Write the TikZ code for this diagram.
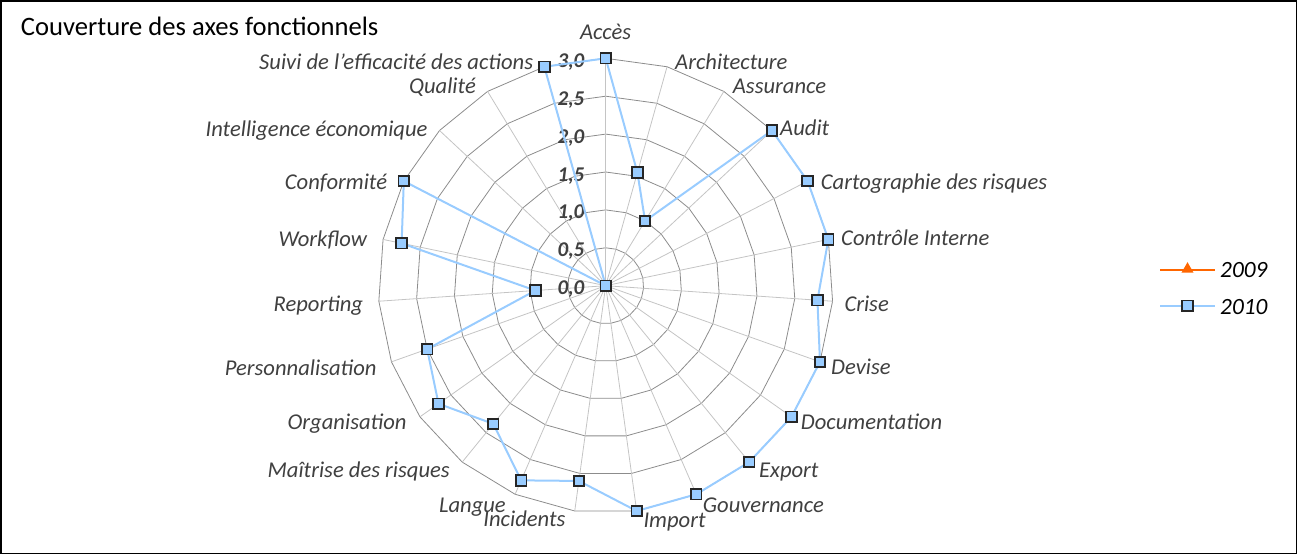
\documentclass[tikz,border=0pt]{standalone}
\usepackage{fontspec}
\setmainfont{Carlito}
\usetikzlibrary{calc,shapes.geometric}
\definecolor{lblue}{HTML}{99CCFF}
\definecolor{lbl}{HTML}{404040}
\definecolor{gridring}{HTML}{8C8C8C}
\definecolor{gridspoke}{HTML}{C4C4C4}
\definecolor{orangeline}{HTML}{FF6600}
\definecolor{mkborder}{HTML}{262626}
\begin{document}
\begin{tikzpicture}[x=1pt,y=-1pt,
  axislbl/.style={font=\fontsize{22.6}{26}\selectfont\itshape, text=lbl, inner sep=0pt},
  rlbl/.style={axislbl, anchor=base west},
  llbl/.style={axislbl, anchor=base east},
  ticklbl/.style={font=\fontsize{21}{25}\selectfont\bfseries\itshape, text=lbl, inner sep=0pt, anchor=base east},
  legtxt/.style={font=\fontsize{23.3}{27}\selectfont\itshape, text=black, inner sep=0pt, anchor=base west},
  ringline/.style={draw=gridring, line width=0.8pt},
  spokeline/.style={draw=gridspoke, line width=0.8pt},
  serie/.style={draw=lblue, line width=2pt, line join=round},
  oserie/.style={draw=orangeline, line width=2pt},
  sqmark/.style={rectangle, draw=mkborder, fill=lblue, line width=1.8pt, minimum size=10.5pt, inner sep=0pt},
  trimark/.style={regular polygon, regular polygon sides=3, fill=orangeline, draw=none, minimum size=14pt, inner sep=0pt}
]
\useasboundingbox (0,0) rectangle (1297,554);
\draw[black, line width=1.5pt] (0.75,0.75) rectangle (1296.25,553.25);

\node[anchor=base west, font=\fontsize{26.6}{31}\selectfont, inner sep=0pt] (title) at (20.7,35) {Couverture des axes fonctionnels};

\coordinate (C) at (605.7,285.7);
% grid rings
\foreach \k in {1,...,6} {
  \draw[ringline] ($(C)+(90:{\k*37.9pt})$) \foreach \i in {1,...,22} { -- ($(C)+({90-\i*360/23}:{\k*37.9pt})$) } -- cycle;
}
% spokes
\foreach \i in {0,...,22} {
  \coordinate (a\i) at ($(C)+({90-\i*360/23}:227.4pt)$);
  \draw[spokeline] (C) -- (a\i);
}
% tick labels
\node[ticklbl] (t0) at (584.5,294.7) {0,0};
\node[ticklbl] (t1) at (584.5,256.8) {0,5};
\node[ticklbl] (t2) at (584.5,218.9) {1,0};
\node[ticklbl] (t3) at (584.5,181.0) {1,5};
\node[ticklbl] (t4) at (584.5,143.1) {2,0};
\node[ticklbl] (t5) at (584.5,105.2) {2,5};
\node[ticklbl] (t6) at (584.5,67.3) {3,0};

% data 2010
\foreach \v [count=\i from 0] in {3,1.55,1,3,3,3,2.8,3,3,3,3,3,2.6,2.8,2.35,2.7,2.5,0.93,2.75,3,0,0,3} {
  \coordinate (d\i) at ($(C)+({90-\i*360/23}:{\v*75.8pt})$);
}
\draw[serie] (d0) \foreach \i in {1,...,22} { -- (d\i) } -- cycle;
\foreach \i in {0,...,22} { \node[sqmark] (m\i) at (d\i) {}; }

% axis labels
\node[axislbl, anchor=base] (L0) at (605.7,39.7) {Accès};
\node[rlbl] (L1) at (675,69.3) {Architecture};
\node[rlbl] (L2) at (732.7,93.7) {Assurance};
\node[rlbl] (L3) at (780,135.3) {Audit};
\node[rlbl] (L4) at (820.7,189.7) {Cartographie des risques};
\node[rlbl] (L5) at (841,245.3) {Contrôle Interne};
\node[rlbl] (L6) at (844.3,311) {Crise};
\node[rlbl] (L7) at (831,374.7) {Devise};
\node[rlbl] (L8) at (800.7,429.3) {Documentation};
\node[rlbl] (L9) at (759,477) {Export};
\node[rlbl] (L10) at (702.7,512) {Gouvernance};
\node[rlbl] (L11) at (643.3,527) {Import};
\node[llbl] (L12) at (565.7,526.3) {Incidents};
\node[llbl] (L13) at (506,512) {Langue};
\node[llbl] (L14) at (450,477) {Maîtrise des risques};
\node[llbl] (L15) at (406.7,429.7) {Organisation};
\node[llbl] (L16) at (376.7,375.3) {Personnalisation};
\node[llbl] (L17) at (363.3,311.3) {Reporting};
\node[llbl] (L18) at (367.3,246) {Workflow};
\node[llbl] (L19) at (387.3,189.7) {Conformité};
\node[llbl] (L20) at (427.7,136) {Intelligence économique};
\node[llbl] (L21) at (476,93.7) {Qualité};
\node[llbl] (L22) at (533.3,69.7) {Suivi de l’efficacité des actions};

% legend
\coordinate (g1a) at (1160,270);
\coordinate (g1b) at (1215,270);
\draw[oserie] (g1a) -- (g1b);
\node[trimark] (g1m) at (1187.5,269.2) {};
\node[legtxt] (g1t) at (1220,277.3) {2009};
\coordinate (g2a) at (1160,305.7);
\coordinate (g2b) at (1215,305.7);
\draw[serie] (g2a) -- (g2b);
\node[sqmark] (g2m) at (1187.5,305.7) {};
\node[legtxt] (g2t) at (1220,314) {2010};
\end{tikzpicture}
\end{document}
